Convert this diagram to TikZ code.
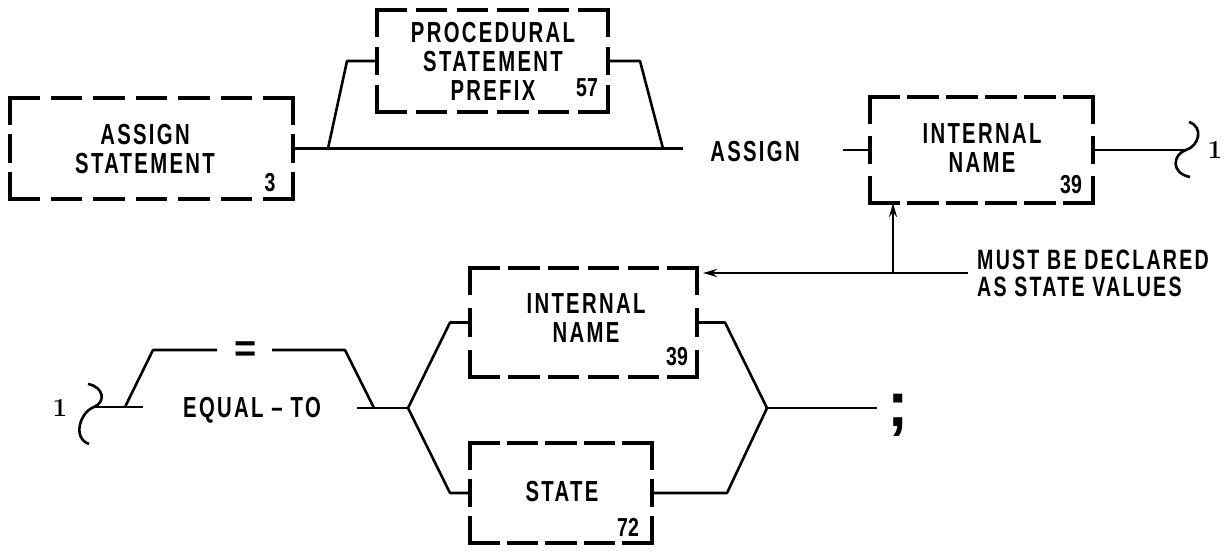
\documentclass[tikz,border=0pt]{standalone}
\usepackage{fontspec}
\usetikzlibrary{arrows.meta}
\newfontfamily\diag{Liberation Sans}[FakeStretch=0.7,LetterSpace=8]
\newfontfamily\diagnum{Liberation Sans}[FakeStretch=0.75]
\newfontfamily\diagsym{Liberation Sans}
% name, x, y, width, height, dashes along width, dashes along height
\newcommand\dbox[7]{%
  \node[frame, minimum width=#4pt, minimum height=#5pt] (#1) at (#2,#3) {};
  \pgfmathsetmacro\dfoffh{(#4-#6*28)/(#6-1)}%
  \pgfmathsetmacro\dfoffv{(#5-#7*25)/(#7-1)}%
  \draw[side, dash pattern=on 28pt off \dfoffh pt] (#1.north west) -- (#1.north east);
  \draw[side, dash pattern=on 28pt off \dfoffh pt] (#1.south west) -- (#1.south east);
  \draw[side, dash pattern=on 25pt off \dfoffv pt] (#1.north west) -- (#1.south west);
  \draw[side, dash pattern=on 25pt off \dfoffv pt] (#1.north east) -- (#1.south east);}
\begin{document}
\begin{tikzpicture}[x=1pt,y=-1pt,
  frame/.style={inner sep=0pt, outer sep=0pt, draw=none},
  side/.style={line width=3.4pt, line cap=rect},
  conn/.style={line width=2.6pt, line join=round},
  arr/.style={conn, -{Stealth[length=14pt,width=8pt]}},
  lbl/.style={font=\diag\bfseries\fontsize{29}{29}\selectfont, align=center, inner sep=0pt},
  num/.style={font=\diagnum\bfseries\fontsize{26}{26}\selectfont, inner sep=0pt},
  one/.style={font=\rmfamily\bfseries\fontsize{26}{28}\selectfont, inner sep=0pt}]
\useasboundingbox (0,0) rectangle (1228,550);

% boxes
\dbox{as}{151.5}{148.5}{283}{101}{7}{3}
\dbox{psp}{492.5}{61}{231}{102}{6}{3}
\dbox{in1}{981.5}{150}{223}{106}{6}{3}
\dbox{in2}{583.5}{322.5}{227}{109}{6}{3}
\dbox{st}{561}{493}{182}{100}{5}{3}

% box texts
\node[lbl] (ast) at (145,149) {ASSIGN\\STATEMENT};
\node[num] (asn) at (270,183) {3};
\node[lbl] (pspt) at (493,61) {PROCEDURAL\\STATEMENT\\PREFIX};
\node[num] (pspn) at (587,88) {57};
\node[lbl] (in1t) at (982,148) {INTERNAL\\NAME};
\node[num] (in1n) at (1071,185) {39};
\node[lbl] (in2t) at (586,318) {INTERNAL\\NAME};
\node[num] (in2n) at (677,357) {39};
\node[lbl] (stt) at (562,492) {STATE};
\node[num] (stn) at (628,527) {72};

% free texts
\node[lbl] (kw) at (755,152) {ASSIGN};
\node[lbl, align=left, anchor=west, font=\diag\bfseries\fontsize{28}{27}\selectfont] (note) at (977,273) {MUST BE DECLARED\\AS STATE VALUES};
\node[lbl] (eqto) at (252,410) {EQUAL – TO};
\node[inner sep=0pt, font=\diagsym\bfseries\fontsize{38}{38}\selectfont] (eq) at (246,352) {=};
\node[inner sep=0pt, font=\diagsym\bfseries\fontsize{64}{64}\selectfont] (semi) at (898,415) {;};
\node[one] (one1) at (1215,150) {1};
\node[one] (one2) at (60,408) {1};

% top row
\coordinate (j1) at (328,148.5);
\coordinate (j2) at (663,148.5);
\coordinate (mainend) at (683,148.5);
\draw[conn] (as.east) -- (mainend);
\draw[conn] (j1) -- ([xshift=-30pt]psp.west) -- (psp.west);
\draw[conn] (psp.east) -- ([xshift=32pt]psp.east) -- (j2);
\coordinate (k) at (843,150);
\draw[conn] (k) -- (in1.west);
\coordinate (c1) at (1186,150);
\draw[conn] (in1.east) -- (c1);
\draw[conn] (c1) .. controls (1199,146) and (1204,127) .. (1189,122);
\draw[conn] (c1) .. controls (1173,154) and (1170,173) .. (1190,177);

% bottom row
\coordinate (c2) at (94,407);
\draw[conn] (c2) .. controls (106,402) and (104,387) .. (88,384);
\draw[conn] (c2) .. controls (80,412) and (72,438) .. (89,444);
\coordinate (s1) at (143,407);
\draw[conn] (c2) -- (s1);
\coordinate (u1) at (125,407);
\coordinate (u2) at (153,350);
\coordinate (eql) at (217,350);
\coordinate (eqr) at (272,350);
\coordinate (u3) at (345,350);
\coordinate (u4) at (374,408);
\coordinate (s2) at (357,408);
\coordinate (b1) at (408,408);
\coordinate (b2) at (767,408);
\coordinate (fin) at (877,408);
\draw[conn] (u1) -- (u2) -- (eql);
\draw[conn] (eqr) -- (u3) -- (u4);
\draw[conn] (s2) -- (b1);
\draw[conn] (b1) -- ([xshift=-20pt]in2.west) -- (in2.west);
\draw[conn] (b1) -- ([xshift=-20pt]st.west) -- (st.west);
\draw[conn] (in2.east) -- ([xshift=28pt]in2.east) -- (b2);
\draw[conn] (st.east) -- ([xshift=75pt]st.east) -- (b2);
\draw[conn] (b2) -- (fin);

% note arrows
\coordinate (m) at (968,273);
\coordinate (mj) at (893,273);
\coordinate (mt) at (703,273);
\draw[arr] (m) -- (mt);
\draw[arr] (mj) -- (in1.south -| mj);
\end{tikzpicture}
\end{document}
